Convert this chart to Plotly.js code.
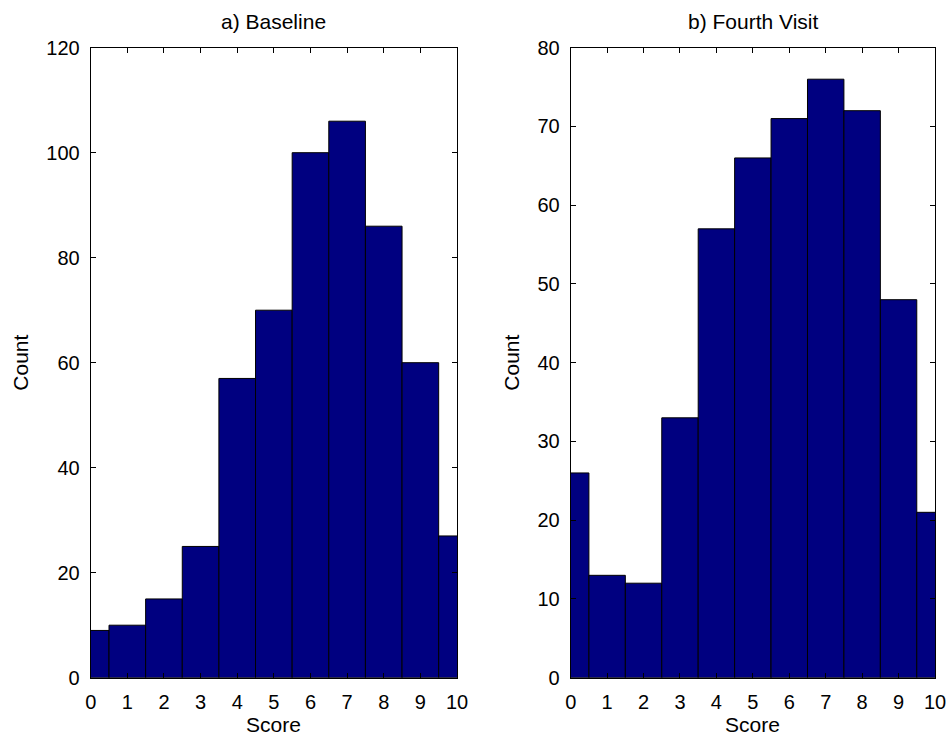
<!DOCTYPE html>
<html>
<head>
<meta charset="utf-8">
<script src="https://cdn.plot.ly/plotly-3.0.1.min.js"></script>
<style>html,body{margin:0;padding:0;background:#fff;}#chart{width:950px;height:735px;}</style>
</head>
<body>
<div id="chart"></div>
<script>
const scores = [0, 1, 2, 3, 4, 5, 6, 7, 8, 9, 10];
const baselineCounts = [9, 10, 15, 25, 57, 70, 100, 106, 86, 60, 27];
const fourthVisitCounts = [26, 13, 12, 33, 57, 66, 71, 76, 72, 48, 21];
const xTickLabels = ['0','1','2','3','4','5','6','7','8','9','10'];
const titleA = 'a) Baseline';
const titleB = 'b) Fourth Visit';
const xLabel = 'Score';
const yLabel = 'Count';

const FONT = 'Liberation Sans, Arial, sans-serif';
const barStyle = {color: '#000080', line: {color: '#000000', width: 1}};

const traces = [
  {type: 'bar', x: scores, y: baselineCounts, width: 1, marker: barStyle, xaxis: 'x', yaxis: 'y', hoverinfo: 'x+y'},
  {type: 'bar', x: scores, y: fourthVisitCounts, width: 1, marker: barStyle, xaxis: 'x2', yaxis: 'y2', hoverinfo: 'x+y'}
];

function xax(domain, anchor) {
  return {
    domain: domain, anchor: anchor, range: [0, 10],
    tickvals: scores, ticktext: xTickLabels,
    ticks: 'inside', ticklen: 5, tickcolor: '#000', tickwidth: 1,
    showline: true, linecolor: '#000', linewidth: 1, mirror: 'ticks',
    showgrid: false, zeroline: false, ticklabelstandoff: 6,
    tickfont: {family: FONT, size: 20, color: '#000'}
  };
}
function yax(domain, anchor, max, dtick) {
  return {
    domain: domain, anchor: anchor, range: [0, max], dtick: dtick, tick0: 0,
    ticks: 'inside', ticklen: 5, tickcolor: '#000', tickwidth: 1,
    showline: true, linecolor: '#000', linewidth: 1, mirror: 'ticks',
    showgrid: false, zeroline: false, ticklabelstandoff: 6,
    tickfont: {family: FONT, size: 20, color: '#000'}
  };
}

const yDom = [57.3 / 735, 687.3 / 735];
const xDomA = [90.7 / 950, 457 / 950];
const xDomB = [570.7 / 950, 935 / 950];

const layout = {
  width: 950, height: 735,
  margin: {l: 0, r: 0, t: 0, b: 0},
  paper_bgcolor: '#fff', plot_bgcolor: '#fff',
  showlegend: false, bargap: 0,
  font: {family: FONT, color: '#000'},
  xaxis: xax(xDomA, 'y'),
  yaxis: yax(yDom, 'x', 120, 20),
  xaxis2: xax(xDomB, 'y2'),
  yaxis2: yax(yDom, 'x2', 80, 10),
  annotations: [
    {text: titleA, xref: 'paper', yref: 'paper', x: (xDomA[0] + xDomA[1]) / 2, y: 1 - 22 / 735, xanchor: 'center', yanchor: 'middle', showarrow: false, font: {size: 21, family: FONT, color: '#000'}},
    {text: titleB, xref: 'paper', yref: 'paper', x: (xDomB[0] + xDomB[1]) / 2, y: 1 - 22 / 735, xanchor: 'center', yanchor: 'middle', showarrow: false, font: {size: 21, family: FONT, color: '#000'}},
    {text: xLabel, xref: 'paper', yref: 'paper', x: (xDomA[0] + xDomA[1]) / 2, y: 1 - 724 / 735, xanchor: 'center', yanchor: 'middle', showarrow: false, font: {size: 21, family: FONT, color: '#000'}},
    {text: xLabel, xref: 'paper', yref: 'paper', x: (xDomB[0] + xDomB[1]) / 2, y: 1 - 724 / 735, xanchor: 'center', yanchor: 'middle', showarrow: false, font: {size: 21, family: FONT, color: '#000'}},
    {text: yLabel, xref: 'paper', yref: 'paper', x: 21 / 950, y: (yDom[0] + yDom[1]) / 2, xanchor: 'center', yanchor: 'middle', textangle: -90, showarrow: false, font: {size: 21, family: FONT, color: '#000'}},
    {text: yLabel, xref: 'paper', yref: 'paper', x: 512 / 950, y: (yDom[0] + yDom[1]) / 2, xanchor: 'center', yanchor: 'middle', textangle: -90, showarrow: false, font: {size: 21, family: FONT, color: '#000'}}
  ]
};

Plotly.newPlot('chart', traces, layout, {displayModeBar: false, staticPlot: true});
</script>
</body>
</html>
